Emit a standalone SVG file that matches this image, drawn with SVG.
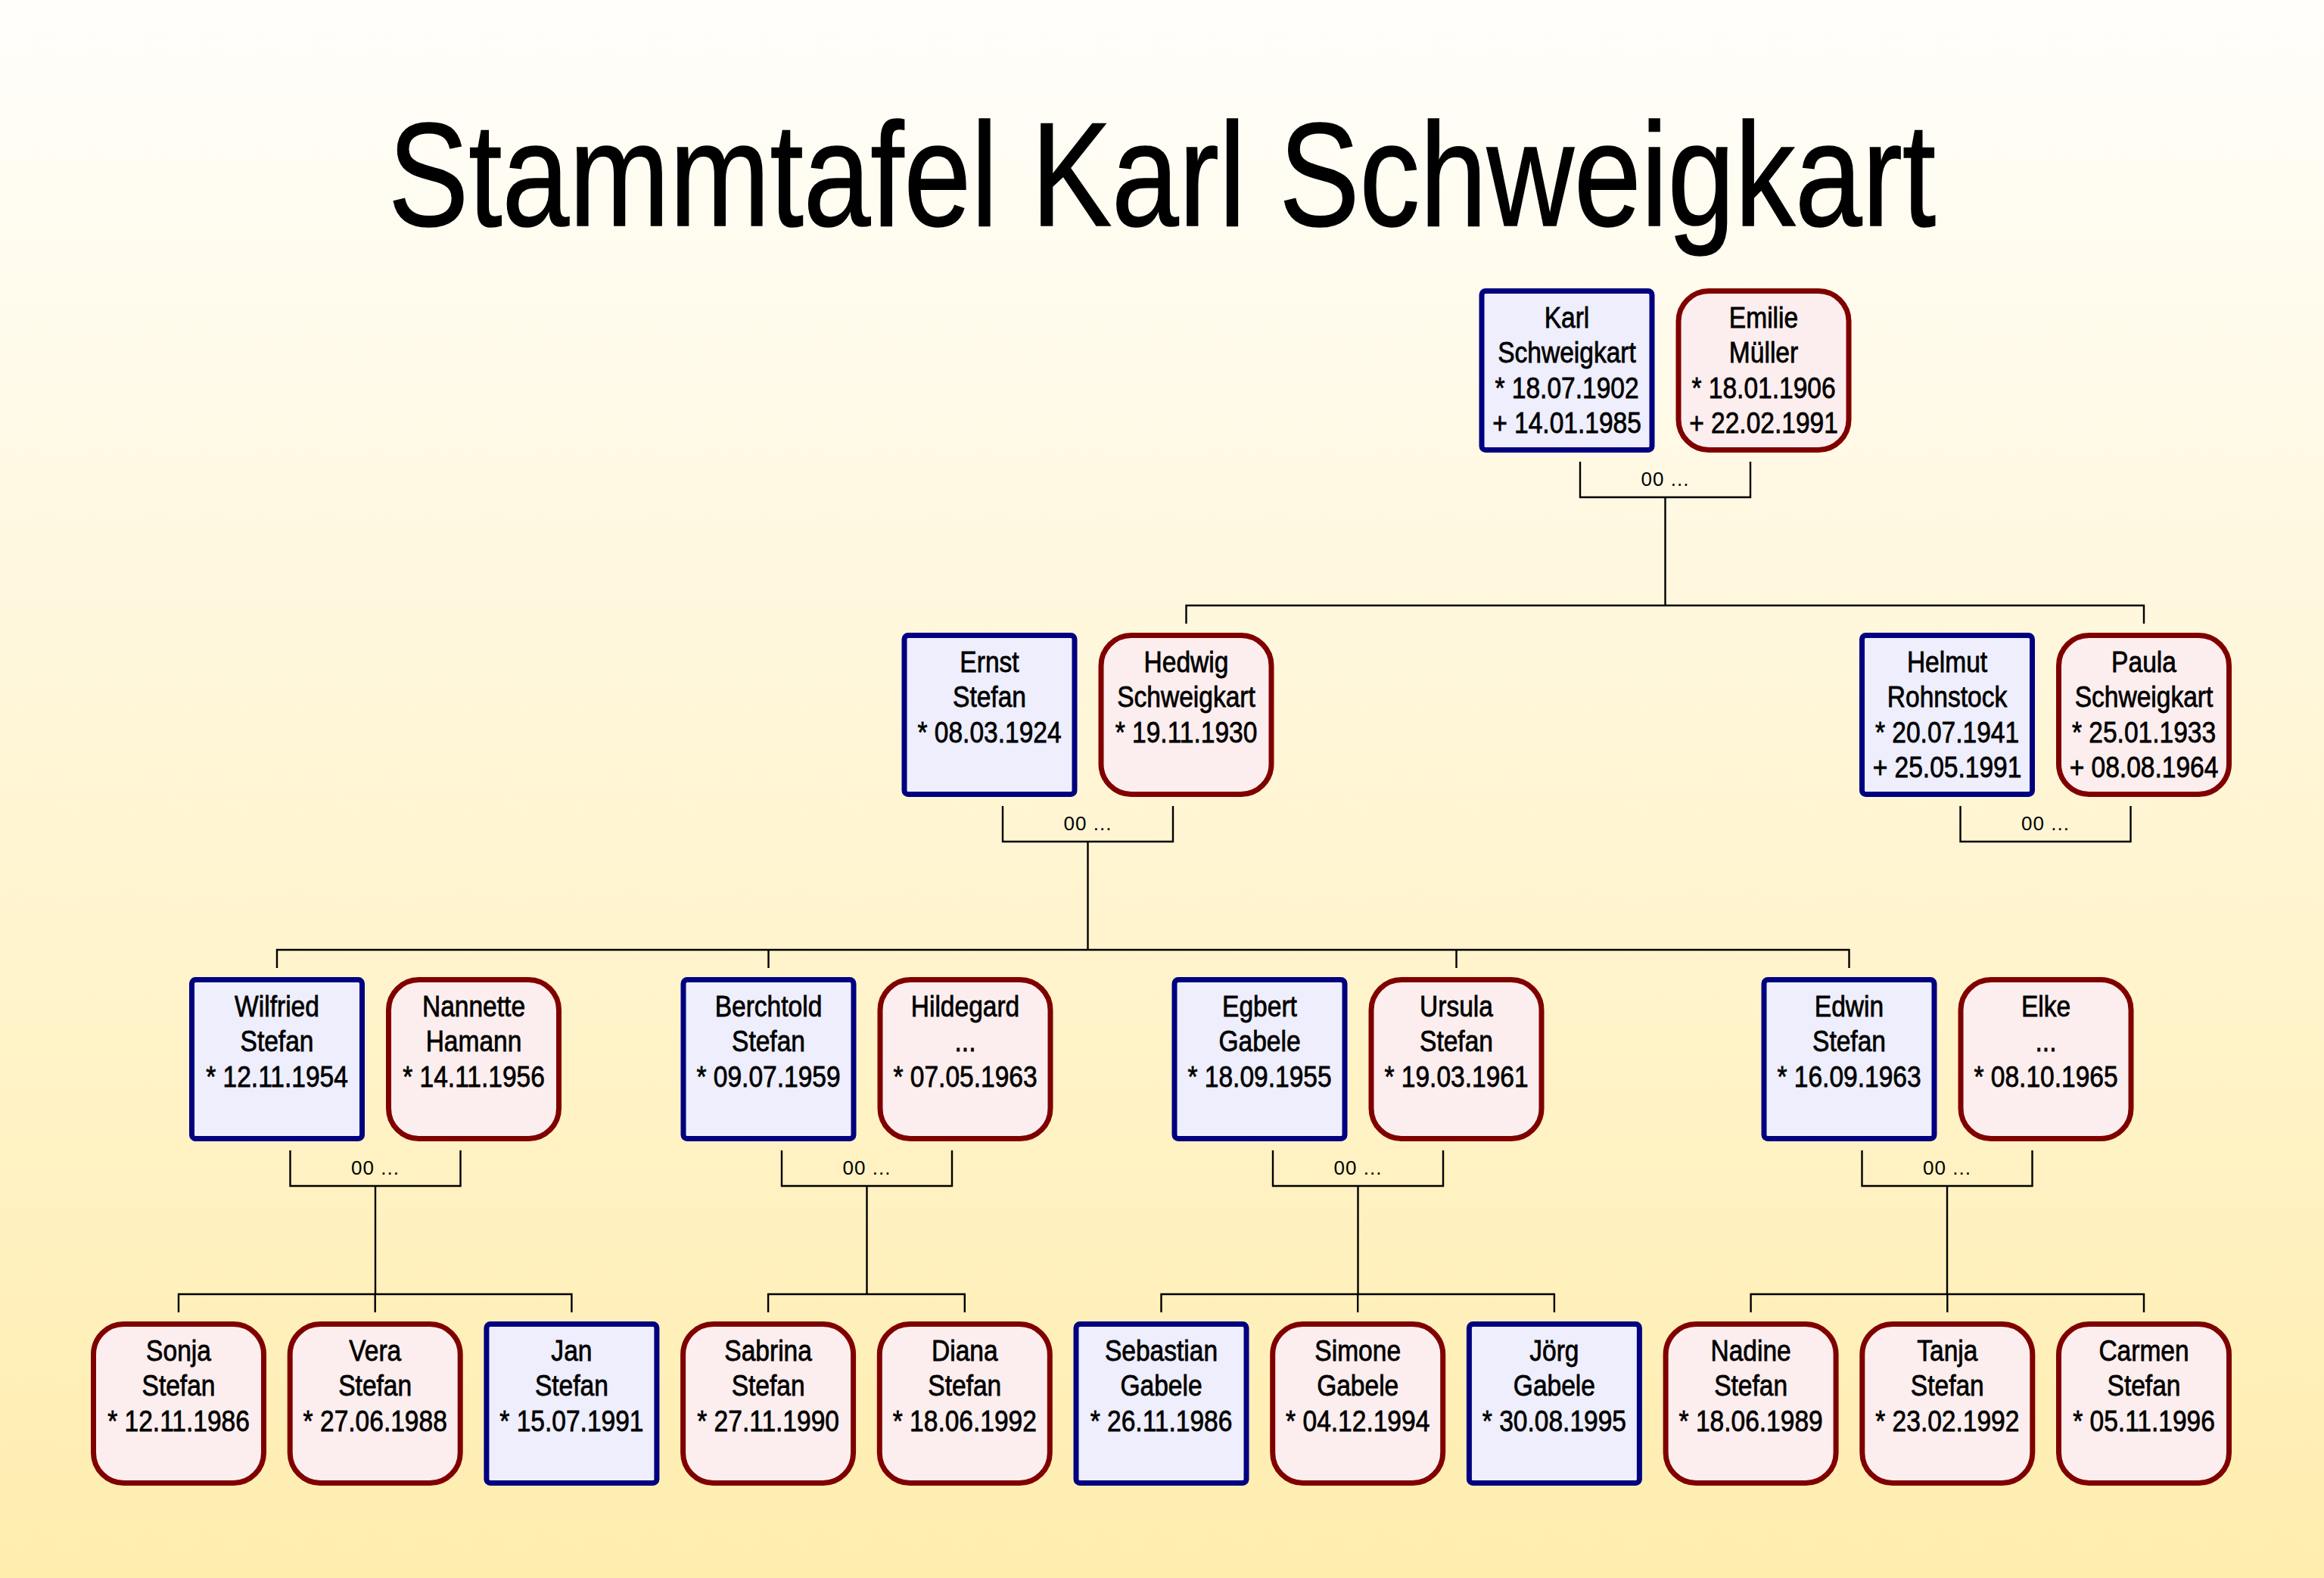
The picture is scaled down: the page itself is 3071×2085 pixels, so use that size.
<svg xmlns="http://www.w3.org/2000/svg" width="3071" height="2085" viewBox="0 0 3071 2085">
<defs>
<linearGradient id="bg" x1="0" y1="0" x2="0" y2="1">
<stop offset="0" stop-color="#FFFEFB"/>
<stop offset="1" stop-color="#FFEDAE"/>
</linearGradient>
<style>
.m{fill:#EEEEFC;stroke:#000080;stroke-width:7}
.f{fill:#FCEEEE;stroke:#800000;stroke-width:7}
.t text{font-family:"Liberation Sans",Arial,sans-serif;font-size:39px;fill:#000;stroke:#000;stroke-width:0.8;text-anchor:middle}
.c{fill:none;stroke:#000;stroke-width:2.4}
.oo{font-family:"Liberation Sans",Arial,sans-serif;font-size:26px;letter-spacing:1px;fill:#000;text-anchor:middle}
.title{font-family:"Liberation Sans",Arial,sans-serif;font-size:194px;fill:#000;stroke:#000;stroke-width:1.5;text-anchor:middle}
</style>
</defs>
<rect x="0" y="0" width="3071" height="2085" fill="url(#bg)"/>
<text class="title" x="1535.5" y="298" textLength="2045" lengthAdjust="spacingAndGlyphs">Stammtafel Karl Schweigkart</text>

<g id="connectors">
<path class="c" d="M2088 610V657H2313V610M2200.5 657V800M1567.5 824V800H2833V824"/>
<text class="oo" x="2200.5" y="642">00 ...</text>
<path class="c" d="M1325 1065V1112H1550V1065M1437.5 1112V1255M366 1279V1255H2443.5V1279M1015.5 1255V1279M1924.5 1255V1279"/>
<text class="oo" x="1437.5" y="1097">00 ...</text>
<path class="c" d="M2590.5 1065V1112H2815.5V1065"/>
<text class="oo" x="2703" y="1097">00 ...</text>
<path class="c" d="M383.5 1520V1567H608.5V1520M496 1567V1710M236 1734V1710H755.4V1734M495.7 1710V1734"/>
<text class="oo" x="496" y="1552">00 ...</text>
<path class="c" d="M1033 1520V1567H1258V1520M1145.5 1567V1710M1015.1 1734V1710H1274.8V1734"/>
<text class="oo" x="1145.5" y="1552">00 ...</text>
<path class="c" d="M1682 1520V1567H1907V1520M1794.5 1567V1710M1534.5 1734V1710H2053.9V1734M1794.2 1710V1734"/>
<text class="oo" x="1794.5" y="1552">00 ...</text>
<path class="c" d="M2460.5 1520V1567H2685.5V1520M2573 1567V1710M2313.6 1734V1710H2833V1734M2573.3 1710V1734"/>
<text class="oo" x="2573" y="1552">00 ...</text>
</g>

<g id="karl"><rect class="m" x="1958" y="384.5" width="225" height="210" rx="5"/>
<g class="t" transform="translate(2070.5 381) scale(0.86 1)"><text y="52">Karl</text><text y="98.5">Schweigkart</text><text y="145">* 18.07.1902</text><text y="191.5">+ 14.01.1985</text></g></g>
<g id="emilie"><rect class="f" x="2218" y="384.5" width="225" height="210" rx="40"/>
<g class="t" transform="translate(2330.5 381) scale(0.86 1)"><text y="52">Emilie</text><text y="98.5">Müller</text><text y="145">* 18.01.1906</text><text y="191.5">+ 22.02.1991</text></g></g>

<g id="ernst"><rect class="m" x="1195" y="839.5" width="225" height="210" rx="5"/>
<g class="t" transform="translate(1307.5 836) scale(0.86 1)"><text y="52">Ernst</text><text y="98.5">Stefan</text><text y="145">* 08.03.1924</text></g></g>
<g id="hedwig"><rect class="f" x="1455" y="839.5" width="225" height="210" rx="40"/>
<g class="t" transform="translate(1567.5 836) scale(0.86 1)"><text y="52">Hedwig</text><text y="98.5">Schweigkart</text><text y="145">* 19.11.1930</text></g></g>
<g id="helmut"><rect class="m" x="2460.5" y="839.5" width="225" height="210" rx="5"/>
<g class="t" transform="translate(2573 836) scale(0.86 1)"><text y="52">Helmut</text><text y="98.5">Rohnstock</text><text y="145">* 20.07.1941</text><text y="191.5">+ 25.05.1991</text></g></g>
<g id="paula"><rect class="f" x="2720.5" y="839.5" width="225" height="210" rx="40"/>
<g class="t" transform="translate(2833 836) scale(0.86 1)"><text y="52">Paula</text><text y="98.5">Schweigkart</text><text y="145">* 25.01.1933</text><text y="191.5">+ 08.08.1964</text></g></g>

<g id="wilfried"><rect class="m" x="253.5" y="1294.5" width="225" height="210" rx="5"/>
<g class="t" transform="translate(366 1291) scale(0.86 1)"><text y="52">Wilfried</text><text y="98.5">Stefan</text><text y="145">* 12.11.1954</text></g></g>
<g id="nannette"><rect class="f" x="513.5" y="1294.5" width="225" height="210" rx="40"/>
<g class="t" transform="translate(626 1291) scale(0.86 1)"><text y="52">Nannette</text><text y="98.5">Hamann</text><text y="145">* 14.11.1956</text></g></g>
<g id="berchtold"><rect class="m" x="903" y="1294.5" width="225" height="210" rx="5"/>
<g class="t" transform="translate(1015.5 1291) scale(0.86 1)"><text y="52">Berchtold</text><text y="98.5">Stefan</text><text y="145">* 09.07.1959</text></g></g>
<g id="hildegard"><rect class="f" x="1163" y="1294.5" width="225" height="210" rx="40"/>
<g class="t" transform="translate(1275.5 1291) scale(0.86 1)"><text y="52">Hildegard</text><text y="98.5">...</text><text y="145">* 07.05.1963</text></g></g>
<g id="egbert"><rect class="m" x="1552" y="1294.5" width="225" height="210" rx="5"/>
<g class="t" transform="translate(1664.5 1291) scale(0.86 1)"><text y="52">Egbert</text><text y="98.5">Gabele</text><text y="145">* 18.09.1955</text></g></g>
<g id="ursula"><rect class="f" x="1812" y="1294.5" width="225" height="210" rx="40"/>
<g class="t" transform="translate(1924.5 1291) scale(0.86 1)"><text y="52">Ursula</text><text y="98.5">Stefan</text><text y="145">* 19.03.1961</text></g></g>
<g id="edwin"><rect class="m" x="2331" y="1294.5" width="225" height="210" rx="5"/>
<g class="t" transform="translate(2443.5 1291) scale(0.86 1)"><text y="52">Edwin</text><text y="98.5">Stefan</text><text y="145">* 16.09.1963</text></g></g>
<g id="elke"><rect class="f" x="2591" y="1294.5" width="225" height="210" rx="40"/>
<g class="t" transform="translate(2703.5 1291) scale(0.86 1)"><text y="52">Elke</text><text y="98.5">...</text><text y="145">* 08.10.1965</text></g></g>

<g id="sonja"><rect class="f" x="123.5" y="1749.5" width="225" height="210" rx="40"/>
<g class="t" transform="translate(236 1746) scale(0.86 1)"><text y="52">Sonja</text><text y="98.5">Stefan</text><text y="145">* 12.11.1986</text></g></g>
<g id="vera"><rect class="f" x="383.2" y="1749.5" width="225" height="210" rx="40"/>
<g class="t" transform="translate(495.7 1746) scale(0.86 1)"><text y="52">Vera</text><text y="98.5">Stefan</text><text y="145">* 27.06.1988</text></g></g>
<g id="jan"><rect class="m" x="642.9" y="1749.5" width="225" height="210" rx="5"/>
<g class="t" transform="translate(755.4 1746) scale(0.86 1)"><text y="52">Jan</text><text y="98.5">Stefan</text><text y="145">* 15.07.1991</text></g></g>
<g id="sabrina"><rect class="f" x="902.6" y="1749.5" width="225" height="210" rx="40"/>
<g class="t" transform="translate(1015.1 1746) scale(0.86 1)"><text y="52">Sabrina</text><text y="98.5">Stefan</text><text y="145">* 27.11.1990</text></g></g>
<g id="diana"><rect class="f" x="1162.3" y="1749.5" width="225" height="210" rx="40"/>
<g class="t" transform="translate(1274.8 1746) scale(0.86 1)"><text y="52">Diana</text><text y="98.5">Stefan</text><text y="145">* 18.06.1992</text></g></g>
<g id="sebastian"><rect class="m" x="1422" y="1749.5" width="225" height="210" rx="5"/>
<g class="t" transform="translate(1534.5 1746) scale(0.86 1)"><text y="52">Sebastian</text><text y="98.5">Gabele</text><text y="145">* 26.11.1986</text></g></g>
<g id="simone"><rect class="f" x="1681.7" y="1749.5" width="225" height="210" rx="40"/>
<g class="t" transform="translate(1794.2 1746) scale(0.86 1)"><text y="52">Simone</text><text y="98.5">Gabele</text><text y="145">* 04.12.1994</text></g></g>
<g id="joerg"><rect class="m" x="1941.4" y="1749.5" width="225" height="210" rx="5"/>
<g class="t" transform="translate(2053.9 1746) scale(0.86 1)"><text y="52">Jörg</text><text y="98.5">Gabele</text><text y="145">* 30.08.1995</text></g></g>
<g id="nadine"><rect class="f" x="2201.1" y="1749.5" width="225" height="210" rx="40"/>
<g class="t" transform="translate(2313.6 1746) scale(0.86 1)"><text y="52">Nadine</text><text y="98.5">Stefan</text><text y="145">* 18.06.1989</text></g></g>
<g id="tanja"><rect class="f" x="2460.8" y="1749.5" width="225" height="210" rx="40"/>
<g class="t" transform="translate(2573.3 1746) scale(0.86 1)"><text y="52">Tanja</text><text y="98.5">Stefan</text><text y="145">* 23.02.1992</text></g></g>
<g id="carmen"><rect class="f" x="2720.5" y="1749.5" width="225" height="210" rx="40"/>
<g class="t" transform="translate(2833 1746) scale(0.86 1)"><text y="52">Carmen</text><text y="98.5">Stefan</text><text y="145">* 05.11.1996</text></g></g>
</svg>
